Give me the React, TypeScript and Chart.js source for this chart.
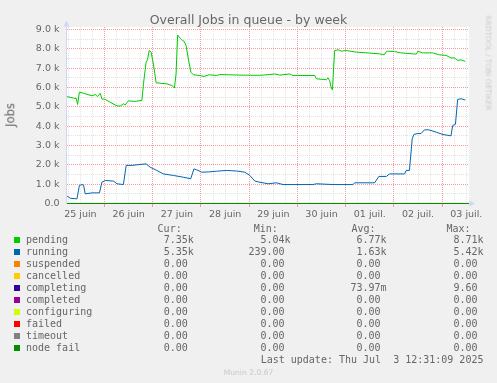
import React, { useEffect, useRef } from "react";
import { Chart, registerables } from "chart.js";

Chart.register(...registerables);

// ---- data ----
const seriesNames = ["pending", "running", "suspended", "cancelled", "completing", "completed", "configuring", "failed", "timeout", "node fail"];
const seriesColors = ["#00cc00", "#0066b3", "#ff8000", "#ffcc00", "#330099", "#990099", "#ccff00", "#ff0000", "#808080", "#008f00"];

// [hour since 25 juin 00:00, jobs]
const pendingSeries: number[][] = [
  [5.4, 5530], [8.6, 5450], [10.0, 5430], [10.6, 5120], [11.5, 5760], [13.6, 5700], [17.8, 5570], [19.4, 5640],
  [20.5, 5530], [21.9, 5700], [22.7, 5410], [24.4, 5380], [26.8, 5240], [30.2, 5050], [31.8, 5040], [33.4, 5160],
  [34.3, 5100], [35.9, 5310], [39.2, 5280], [42.6, 5330], [43.4, 6190], [44.7, 7310], [45.4, 7430], [46.2, 7910],
  [47.2, 7830], [48.3, 7230], [49.7, 6240], [51.7, 6220], [55.0, 6190], [57.5, 6100], [58.8, 5980], [59.6, 6700],
  [60.4, 8710], [61.6, 8550], [62.4, 8470], [63.6, 8380], [64.6, 8170], [65.7, 7480], [67.0, 6790], [68.2, 6660],
  [71.5, 6620], [73.5, 6570], [76.1, 6660], [79.8, 6620], [81.4, 6670], [91.4, 6640], [101.3, 6630], [105.9, 6670],
  [108.7, 6700], [111.2, 6640], [116.2, 6700], [117.8, 6620], [128.6, 6620], [129.4, 6450], [134.4, 6400], [135.2, 6500],
  [136.0, 6360], [136.9, 5930], [137.4, 5880], [138.5, 7910], [140.2, 7950], [141.8, 7880], [144.3, 7910], [149.3, 7830],
  [155.9, 7780], [160.8, 7740], [163.3, 7690], [164.2, 7860], [164.9, 7880], [168.3, 7860], [171.6, 7790], [177.4, 7740],
  [179.1, 7720], [179.9, 7880], [182.3, 7790], [187.3, 7790], [190.6, 7690], [193.9, 7660], [196.4, 7530], [198.1, 7530],
  [199.7, 7400], [201.4, 7430], [203.5, 7350],
];

const runningSeries: number[][] = [
  [5.4, 380], [7.0, 270], [10.3, 240], [11.5, 930], [12.8, 980], [13.6, 950], [14.4, 500], [17.8, 550],
  [21.5, 550], [22.7, 1100], [24.4, 1190], [28.5, 1160], [30.2, 1020], [33.4, 980], [34.8, 1970], [37.6, 1970],
  [41.7, 2020], [44.7, 2050], [46.7, 1880], [50.0, 1710], [53.3, 1530], [58.3, 1450], [63.2, 1360], [66.9, 1280],
  [68.5, 1790], [69.9, 1740], [72.4, 1620], [75.6, 1630], [79.8, 1670], [84.8, 1710], [89.7, 1680], [93.8, 1620],
  [96.3, 1450], [98.8, 1160], [101.3, 1100], [105.4, 1020], [109.6, 1070], [112.8, 980], [127.7, 980], [129.4, 1020],
  [137.7, 980], [147.6, 980], [148.4, 1070], [158.4, 1070], [160.5, 1400], [164.2, 1400], [165.8, 1530], [173.3, 1530],
  [174.1, 1710], [175.7, 1710], [177.1, 3350], [177.9, 3570], [179.9, 3620], [181.5, 3620], [183.2, 3810], [185.3, 3810],
  [189.0, 3690], [192.3, 3570], [196.4, 3500], [197.2, 4030], [198.6, 4100], [199.7, 5380], [201.4, 5420], [203.5, 5350],
];

const zeroSeries: number[][] = [[5.343, 0], [205.343, 0]];

const dayLabels = ["25 juin", "26 juin", "27 juin", "28 juin", "29 juin", "30 juin", "01 juil.", "02 juil.", "03 juil."];
const dayLabelHours = [12, 36, 60, 84, 108, 132, 156, 180, 204];

const yTickValues = [0, 500, 1000, 1500, 2000, 2500, 3000, 3500, 4000, 4500, 5000, 5500, 6000, 6500, 7000, 7500, 8000, 8500, 9000];
const yTickLabels = ["0.0", "1.0 k", "2.0 k", "3.0 k", "4.0 k", "5.0 k", "6.0 k", "7.0 k", "8.0 k", "9.0 k"];

const legendHeaders = ["Cur:", "Min:", "Avg:", "Max:"];
const curValues = [7350, 5350, 0, 0, 0, 0, 0, 0, 0, 0];
const minValues = [5040, 239, 0, 0, 0, 0, 0, 0, 0, 0];
const avgValues = [6770, 1630, 0, 0, 0.07397, 0, 0, 0, 0, 0];
const maxValues = [8710, 5420, 0, 0, 9.6, 0, 0, 0, 0, 0];

const titleText = "Overall Jobs in queue - by week";
const yAxisTitle = "Jobs";
const lastUpdateText = "Last update: Thu Jul  3 12:31:09 2025";
const watermarkText = "Munin 2.0.67";
const sideText = "RRDTOOL / TOBI OETIKER";

// ---- styling ----
const X_MIN = 5.343;
const X_MAX = 205.343;
const Y_MIN = -26;
const Y_MAX = 9129;
const GRID = "rgba(192,192,192,0.45)";
const MGRID = "rgba(255,128,128,0.8)";
const AXIS = "#CFD6F8";
const FONT_COLOR = "#666666";

function fmt(v: number): string {
  let num: string;
  let suf = "";
  if (v === 0) num = "0.00";
  else if (Math.abs(v) >= 1000) { num = (v / 1000).toFixed(2); suf = "k"; }
  else if (Math.abs(v) < 1) { num = (v * 1000).toFixed(2); suf = "m"; }
  else num = v.toFixed(2);
  return num.padStart(6, " ") + suf;
}

const gridHours: number[] = [];
for (let h = 6; h <= 204; h += 6) gridHours.push(h);

const decorPlugin = {
  id: "rrdDecor",
  beforeDraw(chart: any) {
    const { ctx, chartArea: a } = chart;
    ctx.save();
    ctx.fillStyle = "#ffffff";
    ctx.fillRect(a.left, a.top, a.right - a.left, a.bottom - a.top);
    ctx.restore();
  },
  beforeDatasetsDraw(chart: any) {
    const { ctx, chartArea: a } = chart;
    const y0 = Math.round(chart.scales.y.getPixelForValue(0) - 0.5) + 0.5;
    ctx.save();
    ctx.strokeStyle = AXIS;
    ctx.lineWidth = 1;
    ctx.beginPath();
    ctx.moveTo(a.left - 1, y0);
    ctx.lineTo(a.right + 1, y0);
    ctx.stroke();
    ctx.restore();
  },
  afterDraw(chart: any) {
    const { ctx, chartArea: a } = chart;
    const y0 = Math.round(chart.scales.y.getPixelForValue(0) - 0.5) + 0.5;
    const xa = a.left - 0.5;
    ctx.save();
    ctx.strokeStyle = AXIS;
    ctx.fillStyle = AXIS;
    ctx.lineWidth = 1;
    ctx.beginPath();
    ctx.moveTo(xa, a.bottom);
    ctx.lineTo(xa, a.top - 2);
    ctx.stroke();
    // top arrow
    ctx.beginPath();
    ctx.moveTo(xa - 3, a.top - 0.5);
    ctx.lineTo(xa + 3, a.top - 0.5);
    ctx.lineTo(xa, a.top - 6.5);
    ctx.closePath();
    ctx.fill();
    // right arrow
    ctx.beginPath();
    ctx.moveTo(a.right + 0.5, y0 - 3);
    ctx.lineTo(a.right + 0.5, y0 + 3);
    ctx.lineTo(a.right + 6, y0);
    ctx.closePath();
    ctx.fill();
    ctx.restore();
  },
};

const allSeries = [pendingSeries, runningSeries, zeroSeries, zeroSeries, zeroSeries, zeroSeries, zeroSeries, zeroSeries, zeroSeries, zeroSeries];

export default function App() {
  const canvasRef = useRef<HTMLCanvasElement | null>(null);

  useEffect(() => {
    if (!canvasRef.current) return;
    const datasets = seriesNames.map((name, i) => ({
      label: name,
      data: allSeries[i].map((p) => ({ x: p[0], y: p[1] })),
      borderColor: seriesColors[i],
      backgroundColor: seriesColors[i],
      borderWidth: 1,
      pointRadius: 0,
      tension: 0,
      fill: false,
      clip: false as any,
      order: seriesNames.length - 1 - i,
    }));
    const chart = new Chart(canvasRef.current, {
      type: "line",
      data: { datasets },
      plugins: [decorPlugin],
      options: {
        animation: false,
        responsive: false,
        maintainAspectRatio: false,
        devicePixelRatio: 1,
        layout: { padding: { left: 0, top: 27, right: 28, bottom: 159 } },
        plugins: {
          legend: { display: false },
          tooltip: { enabled: false },
          title: { display: false },
        },
        scales: {
          x: {
            type: "linear",
            min: X_MIN,
            max: X_MAX,
            afterBuildTicks: (s: any) => { s.ticks = gridHours.map((v) => ({ value: v })); },
            afterFit: (s: any) => { s.height = 20; },
            ticks: {
              autoSkip: false,
              maxRotation: 0,
              minRotation: 0,
              padding: 2,
              color: FONT_COLOR,
              font: { family: "DejaVu Sans", size: 9.5 },
              callback: (v: any) => {
                const i = dayLabelHours.indexOf(Number(v));
                return i >= 0 ? dayLabels[i] : "";
              },
            },
            grid: {
              color: (c: any) => (c.tick && c.tick.value % 24 === 0 ? MGRID : GRID),
              lineWidth: 1,
              drawTicks: true,
              tickLength: 3,
              tickColor: (c: any) => (c.tick && c.tick.value % 24 === 0 ? MGRID : "rgba(0,0,0,0)"),
            },
            border: { display: false, dash: [1, 1] },
          },
          y: {
            type: "linear",
            min: Y_MIN,
            max: Y_MAX,
            afterBuildTicks: (s: any) => { s.ticks = yTickValues.map((v) => ({ value: v })); },
            afterFit: (s: any) => { s.width = 67; },
            ticks: {
              autoSkip: false,
              padding: 7.5,
              color: FONT_COLOR,
              font: { family: "DejaVu Sans", size: 9.5 },
              callback: (v: any) => {
                const n = Number(v);
                return n % 1000 === 0 ? yTickLabels[n / 1000] : "";
              },
            },
            grid: {
              color: (c: any) => (c.tick && c.tick.value % 1000 === 0 ? MGRID : GRID),
              lineWidth: 1,
              drawTicks: false,
            },
            border: { display: false, dash: [1, 1] },
          },
        },
      } as any,
    });
    return () => chart.destroy();
  }, []);

  const mono: React.CSSProperties = {
    position: "absolute",
    fontFamily: "'DejaVu Sans Mono', monospace",
    fontSize: 10,
    lineHeight: "12px",
    whiteSpace: "pre",
    color: FONT_COLOR,
  };
  const colLeft = [151.6, 248.5, 344.5, 441.5];
  const headLeft = [157.6, 253.8, 351.5, 446.4];
  const cols = [curValues, minValues, avgValues, maxValues];

  return (
    <div style={{ position: "fixed", left: 0, top: 0, width: 497, height: 383, background: "#f0f0f0", overflow: "hidden" }}>
      <canvas ref={canvasRef} width={497} height={383} style={{ position: "absolute", left: 0, top: 0, width: 497, height: 383 }} />
      <div style={{ position: "absolute", left: 0, top: 14, width: 497, textAlign: "center", fontFamily: "'DejaVu Sans'", fontSize: 12.5, lineHeight: "12.5px", color: FONT_COLOR, whiteSpace: "nowrap" }}>{titleText}</div>
      <div style={{ position: "absolute", left: 11, top: 115, transform: "translate(-50%, -50%) rotate(-90deg)", fontFamily: "'DejaVu Sans'", fontSize: 11.5, lineHeight: "11.5px", color: FONT_COLOR, whiteSpace: "nowrap" }}>{yAxisTitle}</div>
      <div style={{ position: "absolute", left: 487.5, top: 62.5, transform: "translate(-50%, -50%) rotate(90deg)", fontFamily: "'DejaVu Sans'", fontSize: 7.4, lineHeight: "7.4px", color: "#cccccc", whiteSpace: "nowrap" }}>{sideText}</div>
      {legendHeaders.map((h, j) => (
        <div key={"h" + j} style={{ ...mono, left: headLeft[j], top: 222.5 }}>{h}</div>
      ))}
      {seriesNames.map((name, i) => (
        <React.Fragment key={name}>
          <div style={{ position: "absolute", left: 14, top: 237 + 12 * i, width: 6, height: 6, background: seriesColors[i] }} />
          <div style={{ ...mono, left: 26, top: 233.5 + 12 * i }}>{name}</div>
          {cols.map((vals, j) => (
            <div key={j} style={{ ...mono, left: colLeft[j], top: 233.5 + 12 * i }}>{fmt(vals[i])}</div>
          ))}
        </React.Fragment>
      ))}
      <div style={{ ...mono, left: 260.7, top: 353.5 }}>{lastUpdateText}</div>
      <div style={{ position: "absolute", left: 0, top: 368.6, width: 497, textAlign: "center", fontFamily: "'DejaVu Sans'", fontSize: 7.6, lineHeight: "7.6px", color: "#c8c8c8", whiteSpace: "nowrap" }}>{watermarkText}</div>
    </div>
  );
}
